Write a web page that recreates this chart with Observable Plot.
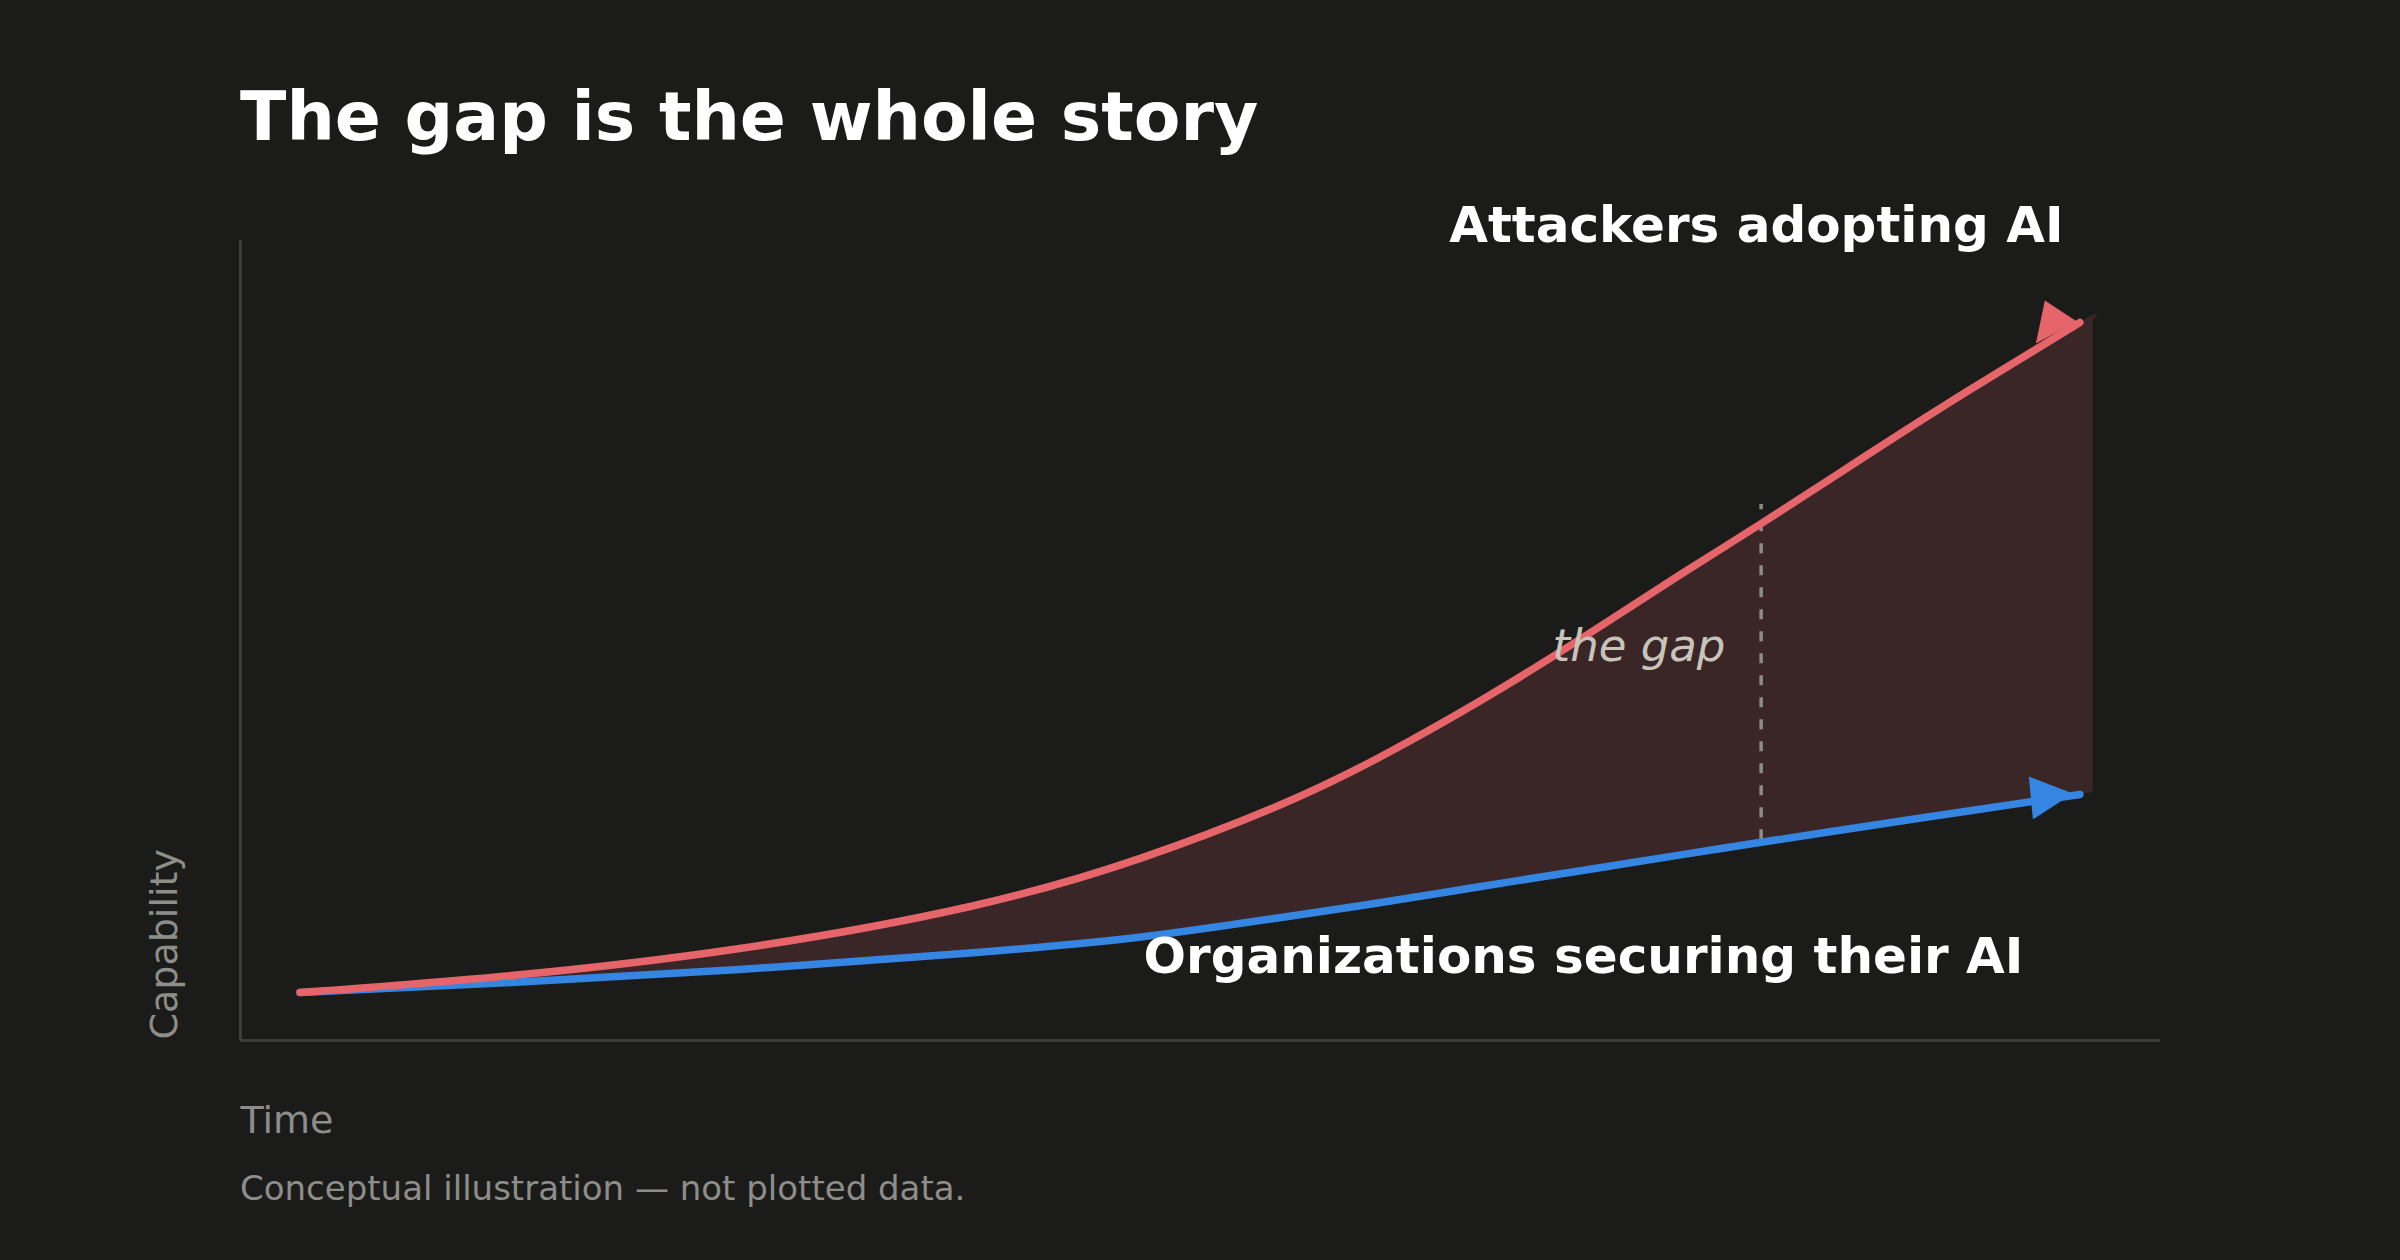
<!DOCTYPE html>
<html>
<head>
<meta charset="utf-8">
<script src="https://cdn.jsdelivr.net/npm/d3@7"></script>
<script src="https://cdn.jsdelivr.net/npm/@observablehq/plot@0.6"></script>
<style>
html, body { margin: 0; padding: 0; background: #1b1b1a; }
body { width: 2400px; height: 1260px; overflow: hidden; font-family: "DejaVu Sans", sans-serif; }
#title { box-sizing: border-box; height: 170px; margin: 0; padding: 82.5px 0 0 240px; font-size: 68px; line-height: 68px; font-weight: bold; color: #ffffff; white-space: nowrap; }
#chart svg { display: block; }
#caption { box-sizing: border-box; padding: 21.2px 0 0 240px; font-size: 34px; line-height: 34px; color: #8d8d89; white-space: nowrap; }
</style>
</head>
<body>
<h1 id="title">The gap is the whole story</h1>
<div id="chart"></div>
<div id="caption">Conceptual illustration — not plotted data.</div>
<script>
// Conceptual curves (time and capability on a 0–100 scale)
const time      = [3.1, 14.1, 26.0, 38.0, 46.9, 54.2, 59.4, 64.6, 69.8, 75.0, 79.2, 84.6, 89.9, 95.8, 96.5];
const attackers = [6.0, 8.12, 11.5, 16.75, 22.8, 29.5, 35.5, 42.5, 50.2, 58.25, 64.6, 73.0, 81.1, 89.75, 90.0];
const defenders = [6.0, 7.25, 8.88, 10.94, 12.94, 15.38, 17.25, 19.25, 21.22, 23.2, 24.78, 26.75, 28.66, 30.76, 31.0];

// "the gap" marker
const gapMarker = [{t: 79.2, from: 25.1, to: 67.0}];

// annotation labels
const seriesLabels = [
  {label: "Attackers adopting AI", t: 94.95, v: 99.875},
  {label: "Organizations securing their AI", t: 92.86, v: 8.5}
];
const gapLabel = [{label: "the gap", t: 77.34, v: 47.5}];
const axisLabels = {x: "Time", y: "Capability"};

const FILL = "#3a2627", RED = "#e6656a", BLUE = "#3585e3";
const AXIS = "#3c3c3a", MUTED = "#8d8d89", GAPTEXT = "#c8c4bb", DASH = "#8c8c88";

const rows = time.map((t, i) => ({t, attack: attackers[i], defend: defenders[i]}));
const lineRows = rows.slice(0, -1);          // the shaded band runs a little past the arrow tips
const tip = [lineRows[lineRows.length - 1]];

function head(points) {
  return {
    draw(ctx) {
      ctx.moveTo(points[0][0], points[0][1]);
      for (let k = 1; k < points.length; k++) ctx.lineTo(points[k][0], points[k][1]);
      ctx.closePath();
    }
  };
}
const redHead = head([[-3, -1], [-35, -22], [-44, 21]]);
const blueHead = head([[-7, -1], [-51, -18], [-47, 25]]);

const chart = Plot.plot({
  width: 2400,
  height: 980,
  marginTop: 70,
  marginBottom: 110,
  marginLeft: 240,
  marginRight: 240,
  style: {background: "transparent", color: "#ffffff", fontFamily: "'DejaVu Sans', sans-serif", overflow: "visible"},
  x: {domain: [0, 100], axis: null},
  y: {domain: [0, 100], axis: null},
  marks: [
    Plot.areaY(rows, {x: "t", y1: "defend", y2: "attack", fill: FILL, curve: "natural"}),
    Plot.ruleX([0], {stroke: AXIS, strokeWidth: 3}),
    Plot.ruleY([0], {stroke: AXIS, strokeWidth: 3}),
    Plot.ruleX(gapMarker, {x: "t", y1: "from", y2: "to", stroke: DASH, strokeWidth: 3.5, strokeDasharray: "10,12"}),
    Plot.line(lineRows, {x: "t", y: "defend", stroke: BLUE, strokeWidth: 7.5, curve: "natural", strokeLinecap: "round", strokeLinejoin: "round"}),
    Plot.line(lineRows, {x: "t", y: "attack", stroke: RED, strokeWidth: 7.5, curve: "natural", strokeLinecap: "round", strokeLinejoin: "round"}),
    Plot.dot(tip, {x: "t", y: "attack", symbol: redHead, fill: RED, stroke: "none"}),
    Plot.dot(tip, {x: "t", y: "defend", symbol: blueHead, fill: BLUE, stroke: "none"}),
    Plot.text(gapLabel, {x: "t", y: "v", text: "label", textAnchor: "end", lineAnchor: "bottom", fontSize: 45, fontStyle: "italic", fill: GAPTEXT}),
    Plot.text(seriesLabels, {x: "t", y: "v", text: "label", textAnchor: "end", lineAnchor: "bottom", fontSize: 50, fontWeight: "bold", fill: "#ffffff"}),
    Plot.text([axisLabels.x], {text: d => d, frameAnchor: "bottom-left", textAnchor: "start", lineAnchor: "bottom", dy: 92, fontSize: 38, fill: MUTED}),
    Plot.text([axisLabels.y], {text: d => d, frameAnchor: "bottom-left", rotate: -90, textAnchor: "start", lineAnchor: "bottom", dx: -64, dy: -1, fontSize: 38, fill: MUTED})
  ]
});
document.getElementById("chart").appendChild(chart);
</script>
</body>
</html>
